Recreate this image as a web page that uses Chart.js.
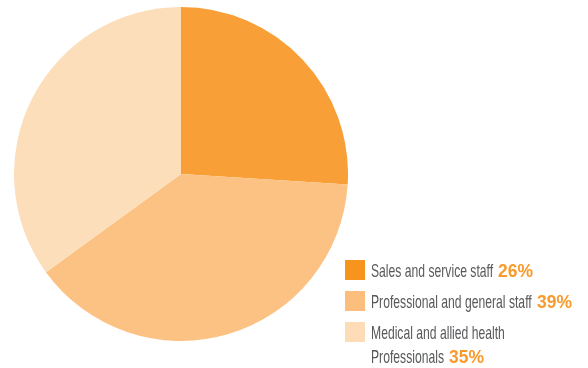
<!DOCTYPE html>
<html>
<head>
<meta charset="utf-8">
<script src="https://cdn.jsdelivr.net/npm/chart.js@4/dist/chart.umd.min.js"></script>
<style>
  html, body { margin: 0; padding: 0; background: #fff; }
  body { width: 588px; height: 368px; position: relative; overflow: hidden;
         font-family: "Liberation Sans", Arial, sans-serif; }
  #pieBox { position: absolute; left: 14px; top: 7px; width: 334px; height: 334px; }
  .sw { position: absolute; width: 20px; height: 20px; }
  .txt { position: absolute; white-space: nowrap; font-size: 19px; line-height: 19px;
         color: #58595B; transform-origin: 0 0; }
  .pct { color: #F99A2C; font-weight: bold; }
</style>
</head>
<body>
<div id="pieBox"><canvas id="pie"></canvas></div>
<div id="legend"></div>
<script>
// Staff composition by category (percent of workforce)
const categories = ["Sales and service staff", "Professional and general staff", "Medical and allied health Professionals"];
const legendLines = [["Sales and service staff"], ["Professional and general staff"], ["Medical and allied health", "Professionals"]];
const shares = [26, 39, 35];
const sliceColors = ["#F99F38", "#FCC283", "#FDDEBB"];
const swatchColors = ["#F7941E", "#FCBE7C", "#FDDCB7"];

new Chart(document.getElementById("pie"), {
  type: "pie",
  data: {
    labels: categories,
    datasets: [{ data: shares, backgroundColor: sliceColors, borderWidth: 0 }]
  },
  options: {
    responsive: true,
    maintainAspectRatio: false,
    animation: false,
    layout: { padding: 0 },
    plugins: { legend: { display: false }, tooltip: { enabled: false } }
  }
});

// Legend: swatch, condensed label lines, bold percentage after the last line
const legend = document.getElementById("legend");
const textX = 371, swX = 345;
const labelScale = 0.64, pctScale = 0.92;
const firstBaseline = 277, itemGap = 31, lineGap = 24, baselineOffset = 16;
let baseline = firstBaseline;

function addText(cls, text, x, y, scale) {
  const el = document.createElement("span");
  el.className = cls;
  el.textContent = text;
  el.style.left = x + "px";
  el.style.top = (y - baselineOffset) + "px";
  el.style.transform = "scaleX(" + scale + ")";
  legend.appendChild(el);
  return el.offsetWidth * scale;
}

categories.forEach((c, i) => {
  const sw = document.createElement("div");
  sw.className = "sw";
  sw.style.left = swX + "px";
  sw.style.top = (baseline - 17) + "px";
  sw.style.background = swatchColors[i];
  legend.appendChild(sw);
  const lines = legendLines[i];
  lines.forEach((ln, j) => {
    const w = addText("txt", ln, textX, baseline, labelScale);
    if (j === lines.length - 1) {
      addText("txt pct", shares[i] + "%", textX + w + 5, baseline, pctScale);
    } else {
      baseline += lineGap;
    }
  });
  baseline += itemGap;
});
</script>
</body>
</html>
